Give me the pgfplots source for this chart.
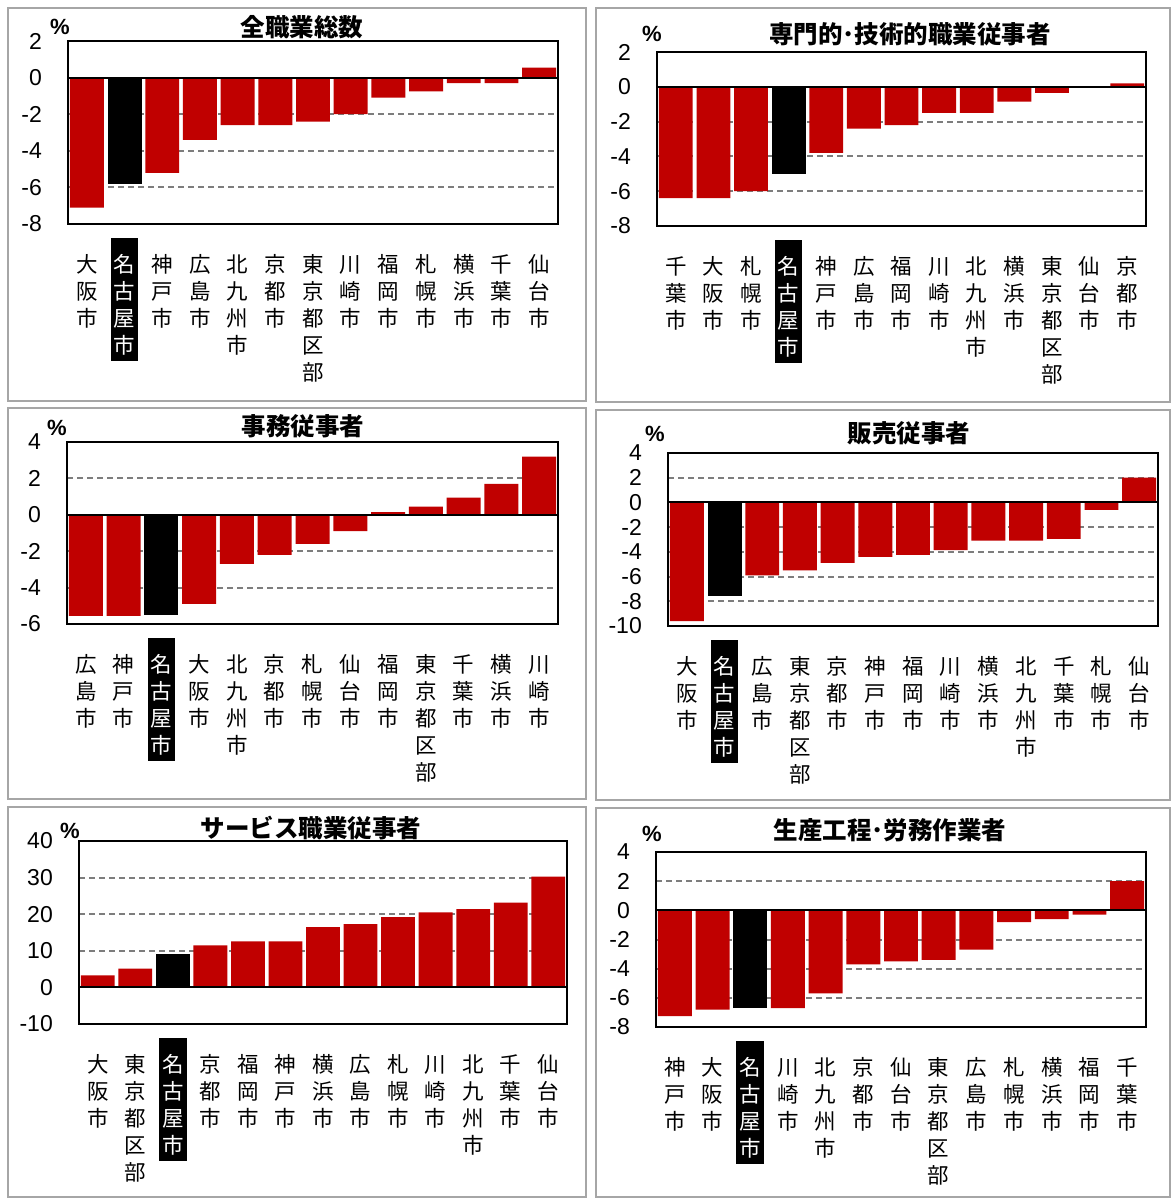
\documentclass[border=0pt]{standalone}
\usepackage{pgfplots}
\pgfplotsset{compat=1.18}
\usepackage{fontspec}
\setmainfont{Liberation Sans}
\newfontfamily\cjk{Noto Sans CJK JP}
\definecolor{barred}{RGB}{192,0,0}
\definecolor{frame}{RGB}{166,166,166}
\definecolor{gridc}{RGB}{125,125,125}

\newcommand{\vt}[1]{{\renewcommand\arraystretch{1}\begin{tabular}{@{}c@{}}#1\end{tabular}}}
\newcommand{\nag}[1]{\raisebox{0pt}[\dimexpr\height-15pt\relax]{{\setlength\fboxsep{0pt}\colorbox{black}{\color{white}\renewcommand\arraystretch{1}\begin{tabular}{@{\hspace{3pt}}c@{\hspace{3pt}}}\rule{0pt}{34pt}#1\end{tabular}}}}}
\def\OSK{\vt{大\\阪\\市}}
\def\NGY{\nag{名\\古\\屋\\市}}
\def\KOB{\vt{神\\戸\\市}}
\def\HIR{\vt{広\\島\\市}}
\def\KIT{\vt{北\\九\\州\\市}}
\def\KYO{\vt{京\\都\\市}}
\def\TKY{\vt{東\\京\\都\\区\\部}}
\def\KAW{\vt{川\\崎\\市}}
\def\FUK{\vt{福\\岡\\市}}
\def\SAP{\vt{札\\幌\\市}}
\def\YOK{\vt{横\\浜\\市}}
\def\CHI{\vt{千\\葉\\市}}
\def\SEN{\vt{仙\\台\\市}}

\pgfplotsset{
  panel/.style={
    scale only axis, anchor=north west,
    xmin=0.5, xmax=13.5, xtick={1,...,13},
    ymajorgrids,
    grid style={gridc, line width=2pt, dash pattern=on 6pt off 4pt},
    major tick length=0pt, tick style={draw=none},
    axis line style={black, line width=1.4pt},
    /pgf/number format/assume math mode=true,
    yticklabel style={font=\fontsize{23}{26}\selectfont, inner sep=0pt, xshift=-26pt, anchor=east},
    xticklabel style={font=\cjk\fontsize{21.5}{27}\selectfont, inner sep=0pt, yshift=-29pt, anchor=north},
  },
  redbar/.style={ybar, bar width=0.9, fill=barred, draw=none},
  blkbar/.style={ybar, bar width=0.9, fill=black, draw=none},
  zeroline/.style={black, line width=2pt, no marks, forget plot},
}
\newcommand{\ttl}[3]{\node[font=\cjk\bfseries\fontsize{24.5}{28}\selectfont, inner sep=0pt] at (#1pt,-#2pt) {#3};}
\newcommand{\pct}[2]{\node[font=\bfseries\fontsize{22}{26}\selectfont, inner sep=0pt] at (#1pt,-#2pt) {\%};}

\begin{document}
\begin{tikzpicture}
\useasboundingbox (0pt,0pt) rectangle (1171pt,-1198pt);
\fill[white] (0pt,0pt) rectangle (1171pt,-1198pt);
% frames
\draw[frame, line width=2pt] (8pt,-8pt) rectangle (586pt,-401pt);
\draw[frame, line width=2pt] (596pt,-8pt) rectangle (1170pt,-402pt);
\draw[frame, line width=2pt] (8pt,-408pt) rectangle (586pt,-799pt);
\draw[frame, line width=2pt] (596pt,-410pt) rectangle (1170pt,-800pt);
\draw[frame, line width=2pt] (8pt,-807pt) rectangle (586pt,-1197pt);
\draw[frame, line width=2pt] (596pt,-808pt) rectangle (1170pt,-1197pt);

% ---------- Panel 1 ----------
\begin{axis}[panel, at={(68pt,-41pt)}, width=490pt, height=183pt,
  ymin=-8, ymax=2, ytick={-8,-6,...,2},
  xticklabels={{\OSK},{\NGY},{\KOB},{\HIR},{\KIT},{\KYO},{\TKY},{\KAW},{\FUK},{\SAP},{\YOK},{\CHI},{\SEN}}]
\addplot[redbar] coordinates {(1,-7.1) (3,-5.2) (4,-3.4) (5,-2.6) (6,-2.6) (7,-2.4) (8,-2.0) (9,-1.1) (10,-0.75) (11,-0.3) (12,-0.3) (13,0.55)};
\addplot[blkbar] coordinates {(2,-5.8)};
\addplot[zeroline] coordinates {(0.5,0) (13.5,0)};
\end{axis}
\ttl{302}{27}{全職業総数}
\pct{60}{27}

% ---------- Panel 2 ----------
\begin{axis}[panel, at={(657pt,-52pt)}, width=489pt, height=174pt,
  ymin=-8, ymax=2, ytick={-8,-6,...,2},
  xticklabels={{\CHI},{\OSK},{\SAP},{\NGY},{\KOB},{\HIR},{\FUK},{\KAW},{\KIT},{\YOK},{\TKY},{\SEN},{\KYO}}]
\addplot[redbar] coordinates {(1,-6.4) (2,-6.4) (3,-6.0) (5,-3.8) (6,-2.4) (7,-2.2) (8,-1.5) (9,-1.5) (10,-0.85) (11,-0.35) (12,0.0) (13,0.2)};
\addplot[blkbar] coordinates {(4,-5.0)};
\addplot[zeroline] coordinates {(0.5,0) (13.5,0)};
\end{axis}
\ttl{910}{34}{専門的･技術的職業従事者}
\pct{652}{34}

% ---------- Panel 3 ----------
\begin{axis}[panel, at={(67pt,-442pt)}, width=491pt, height=182pt,
  ymin=-6, ymax=4, ytick={-6,-4,...,4},
  xticklabels={{\HIR},{\KOB},{\NGY},{\OSK},{\KIT},{\KYO},{\SAP},{\SEN},{\FUK},{\TKY},{\CHI},{\YOK},{\KAW}}]
\addplot[redbar] coordinates {(1,-5.55) (2,-5.55) (4,-4.9) (5,-2.7) (6,-2.2) (7,-1.6) (8,-0.9) (9,0.15) (10,0.45) (11,0.95) (12,1.7) (13,3.2)};
\addplot[blkbar] coordinates {(3,-5.5)};
\addplot[zeroline] coordinates {(0.5,0) (13.5,0)};
\end{axis}
\ttl{303}{426}{事務従事者}
\pct{57}{428}

% ---------- Panel 4 ----------
\begin{axis}[panel, at={(668pt,-453pt)}, width=490pt, height=173pt,
  ymin=-10, ymax=4, ytick={-10,-8,...,4},
  xticklabels={{\OSK},{\NGY},{\HIR},{\TKY},{\KYO},{\KOB},{\FUK},{\KAW},{\YOK},{\KIT},{\CHI},{\SAP},{\SEN}}]
\addplot[redbar] coordinates {(1,-9.6) (3,-5.9) (4,-5.5) (5,-4.9) (6,-4.4) (7,-4.25) (8,-3.85) (9,-3.1) (10,-3.1) (11,-2.95) (12,-0.6) (13,2.0)};
\addplot[blkbar] coordinates {(2,-7.55)};
\addplot[zeroline] coordinates {(0.5,0) (13.5,0)};
\end{axis}
\ttl{909}{433}{販売従事者}
\pct{655}{434}

% ---------- Panel 5 ----------
\begin{axis}[panel, at={(79pt,-841pt)}, width=488pt, height=183pt,
  ymin=-10, ymax=40, ytick={-10,0,...,40},
  xticklabels={{\OSK},{\TKY},{\NGY},{\KYO},{\FUK},{\KOB},{\YOK},{\HIR},{\SAP},{\KAW},{\KIT},{\CHI},{\SEN}}]
\addplot[redbar] coordinates {(1,3.3) (2,5.1) (4,11.5) (5,12.6) (6,12.6) (7,16.5) (8,17.3) (9,19.2) (10,20.5) (11,21.4) (12,23.2) (13,30.3)};
\addplot[blkbar] coordinates {(3,9.2)};
\addplot[zeroline] coordinates {(0.5,0) (13.5,0)};
\end{axis}
\ttl{311}{828}{サービス職業従事者}
\pct{70}{831}

% ---------- Panel 6 ----------
\begin{axis}[panel, at={(656pt,-852pt)}, width=490pt, height=175pt,
  ymin=-8, ymax=4, ytick={-8,-6,...,4},
  xticklabels={{\KOB},{\OSK},{\NGY},{\KAW},{\KIT},{\KYO},{\SEN},{\TKY},{\HIR},{\SAP},{\YOK},{\FUK},{\CHI}}]
\addplot[redbar] coordinates {(1,-7.25) (2,-6.8) (4,-6.7) (5,-5.7) (6,-3.7) (7,-3.5) (8,-3.4) (9,-2.7) (10,-0.8) (11,-0.6) (12,-0.3) (13,2.0)};
\addplot[blkbar] coordinates {(3,-6.7)};
\addplot[zeroline] coordinates {(0.5,0) (13.5,0)};
\end{axis}
\ttl{890}{830}{生産工程･労務作業者}
\pct{652}{834}
\end{tikzpicture}
\end{document}
